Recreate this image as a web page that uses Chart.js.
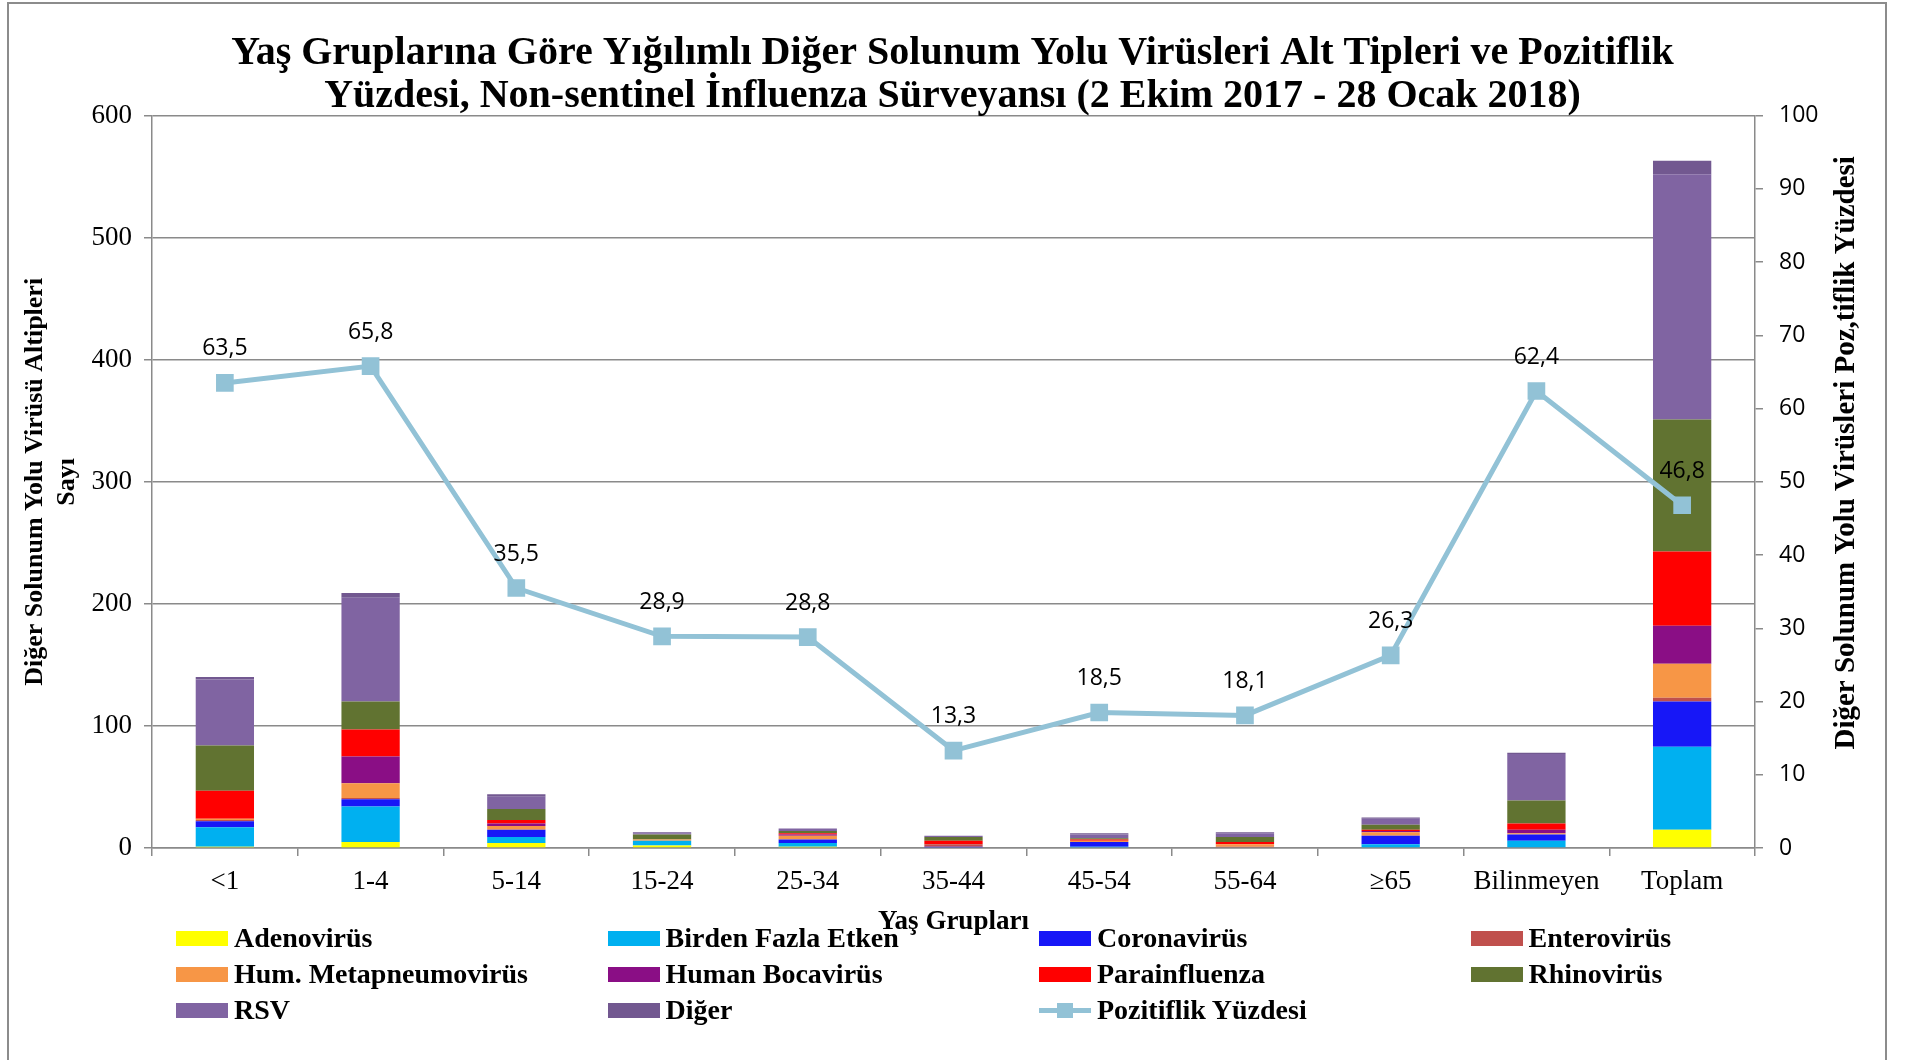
<!DOCTYPE html>
<html>
<head>
<meta charset="utf-8">
<script src="https://cdn.jsdelivr.net/npm/chart.js@4.4.1/dist/chart.umd.min.js"></script>
<style>
  html, body { margin: 0; padding: 0; background: #fff; }
  #wrap { position: relative; width: 1905px; height: 1060px; overflow: hidden; }
  #frame { position: absolute; left: 7px; top: 2px; width: 1880px; height: 1080px; border: 2px solid #8c8c8c; box-sizing: border-box; pointer-events: none; }
  canvas { position: absolute; left: 0; top: 0; }
  .lg { position: absolute; height: 36px; display: flex; align-items: center; font-family: "Liberation Serif", "Times New Roman", serif; font-weight: bold; font-size: 28px; color: #000; white-space: nowrap; }
  .lg .sw { width: 52px; height: 15px; margin-right: 6px; flex: none; }
  .lg .ln { position: relative; width: 52px; height: 15px; margin-right: 6px; flex: none; }
</style>
</head>
<body>
<div id="wrap">
  <canvas id="c" width="1905" height="1060"></canvas>
  <div id="frame"></div>
  <div id="legend"></div>
</div>
<script>
const categories = ['<1', '1-4', '5-14', '15-24', '25-34', '35-44', '45-54', '55-64', '≥65', 'Bilinmeyen', 'Toplam'];
const adenovirus   = [1, 5, 4, 2, 1, 0, 0, 0, 0, 0, 15];
const birdenFazla  = [16, 29, 5, 4, 3, 0, 1, 0, 3, 6, 68];
const coronavirus  = [5, 6, 6, 0, 3, 1, 4, 0, 7, 5, 37];
const enterovirus  = [1, 1, 0, 0, 0, 2, 0, 1, 0, 0, 3];
const metapneumo   = [1, 12, 3, 1, 3, 0, 1, 2, 3, 1, 28];
const bocavirus    = [0, 22, 2, 0, 1, 0, 0, 0, 1, 3, 31];
const parainfluenza= [23, 22, 3, 0, 1, 3, 1, 2, 1, 5, 61];
const rhinovirus   = [37, 23, 9, 4, 2, 3, 1, 4, 4, 19, 108];
const rsv          = [54, 85, 10, 1, 2, 1, 3, 3, 5, 38, 201];
const diger        = [2, 4, 2, 1, 0, 0, 1, 1, 1, 1, 11];
const pozitiflik   = [63.5, 65.8, 35.5, 28.9, 28.8, 13.3, 18.5, 18.1, 26.3, 62.4, 46.8];

const seriesNames = ['Adenovirüs', 'Birden Fazla Etken', 'Coronavirüs', 'Enterovirüs', 'Hum. Metapneumovirüs', 'Human Bocavirüs', 'Parainfluenza', 'Rhinovirüs', 'RSV', 'Diğer'];
const seriesData = [adenovirus, birdenFazla, coronavirus, enterovirus, metapneumo, bocavirus, parainfluenza, rhinovirus, rsv, diger];
const seriesColors = ['#FFFF00', '#00B0F0', '#1717F7', '#C0504D', '#F79646', '#8A0E85', '#FF0000', '#617331', '#8064A2', '#725890'];
const lineName = 'Pozitiflik Yüzdesi';
const lineColor = '#92C2D6';
const rightTitle = 'Diğer Solunum Yolu Virüsleri Poz,tiflik Yüzdesi';

const serif = '"Liberation Serif", "Times New Roman", serif';
const sans = '"Open Sans", "Liberation Sans", sans-serif';
const gridColor = '#8a8a8a';

const datasets = seriesData.map((d, i) => ({
  type: 'bar', label: seriesNames[i], data: d, backgroundColor: seriesColors[i],
  borderWidth: 0, yAxisID: 'y', stack: 's', order: 2,
  barPercentage: 0.4, categoryPercentage: 1.0
}));
datasets.push({
  type: 'line', label: lineName, data: pozitiflik, yAxisID: 'y1', order: 0,
  borderColor: lineColor, backgroundColor: lineColor, borderWidth: 5,
  pointStyle: 'rect', pointRadius: 12.5, pointHoverRadius: 12.5,
  pointBackgroundColor: lineColor, pointBorderWidth: 0, tension: 0
});

const extras = {
  id: 'extras',
  afterDatasetsDraw(chart) {
    const idx = chart.data.datasets.length - 1;
    const meta = chart.getDatasetMeta(idx);
    const ctx = chart.ctx;
    ctx.save();
    ctx.font = '23px ' + sans;
    ctx.fillStyle = '#000';
    ctx.textAlign = 'center';
    ctx.textBaseline = 'middle';
    meta.data.forEach((pt, i) => {
      const v = chart.data.datasets[idx].data[i];
      ctx.fillText(v.toFixed(1).replace('.', ','), pt.x, pt.y - 34);
    });
    ctx.restore();
  },
  afterDraw(chart) {
    const ctx = chart.ctx;
    const s = chart.scales.y1;
    const ca = chart.chartArea;
    ctx.save();
    ctx.translate(s.right - 58, (ca.top + ca.bottom) / 2 - 29);
    ctx.rotate(-Math.PI / 2);
    ctx.font = 'bold 29px ' + serif;
    ctx.fillStyle = '#000';
    ctx.textAlign = 'center';
    ctx.textBaseline = 'middle';
    ctx.fillText(rightTitle, 0, 0);
    ctx.restore();
  }
};

new Chart(document.getElementById('c'), {
  data: { labels: categories, datasets },
  options: {
    responsive: false, animation: false,
    layout: { padding: { left: 0, right: 0, top: 0, bottom: 0 } },
    plugins: {
      legend: { display: false },
      tooltip: { enabled: false },
      title: {
        display: true,
        text: ['Yaş Gruplarına Göre Yığılımlı Diğer Solunum Yolu Virüsleri Alt Tipleri ve Pozitiflik',
               'Yüzdesi, Non-sentinel İnfluenza Sürveyansı (2 Ekim 2017 - 28 Ocak 2018)'],
        color: '#000',
        font: { family: serif, size: 40, weight: 'bold', lineHeight: 1.07 },
        padding: { top: 32, bottom: -2 }
      }
    },
    scales: {
      x: {
        stacked: true,
        grid: { display: true, drawOnChartArea: false, drawTicks: true, tickLength: 8, color: gridColor, lineWidth: 1.5, offset: true },
        border: { color: gridColor, width: 1.5 },
        ticks: { color: '#000', font: { family: serif, size: 27 }, padding: 10, maxRotation: 0, autoSkip: false },
        title: { display: true, text: 'Yaş Grupları', color: '#000', font: { family: serif, size: 27, weight: 'bold' }, padding: { top: 0, bottom: 122 } },
        afterFit(s) { s.height = 212; }
      },
      y: {
        stacked: true, position: 'left', min: 0, max: 600,
        grid: { color: gridColor, lineWidth: 1.5, tickLength: 8 },
        border: { color: gridColor, width: 1.5 },
        ticks: { stepSize: 100, color: '#000', font: { family: serif, size: 27 }, padding: 12 },
        title: { display: true, text: ['Diğer Solunum Yolu Virüsü Altipleri', 'Sayı'], color: '#000', font: { family: serif, size: 26, weight: 'bold', lineHeight: 1.2 }, padding: { top: 20, bottom: 0 } },
        afterFit(s) { s.width = 152; }
      },
      y1: {
        position: 'right', min: 0, max: 100,
        grid: { drawOnChartArea: false, color: gridColor, lineWidth: 1.5, tickLength: 8 },
        border: { color: gridColor, width: 1.5 },
        ticks: { stepSize: 10, color: '#000', font: { family: sans, size: 23 }, padding: 16 },
        title: { display: false },
        afterFit(s) { s.width = 150; }
      }
    }
  },
  plugins: [extras]
});

// HTML legend (row-major, 4 columns)
const legendEl = document.getElementById('legend');
const items = seriesNames.map((n, i) => ({ name: n, color: seriesColors[i], line: false }));
items.push({ name: lineName, color: lineColor, line: true });
items.forEach((it, k) => {
  const col = k % 4, row = Math.floor(k / 4);
  const d = document.createElement('div');
  d.className = 'lg';
  d.style.left = (176 + col * 431.5) + 'px';
  d.style.top = (920 + row * 36) + 'px';
  let sw;
  if (it.line) {
    sw = '<span class="ln"><span style="position:absolute;left:0;top:5px;width:52px;height:5px;background:' + it.color + '"></span>' +
         '<span style="position:absolute;left:18px;top:0;width:16px;height:15px;background:' + it.color + '"></span></span>';
  } else {
    sw = '<span class="sw" style="background:' + it.color + '"></span>';
  }
  d.innerHTML = sw + '<span>' + it.name + '</span>';
  legendEl.appendChild(d);
});
</script>
</body>
</html>
